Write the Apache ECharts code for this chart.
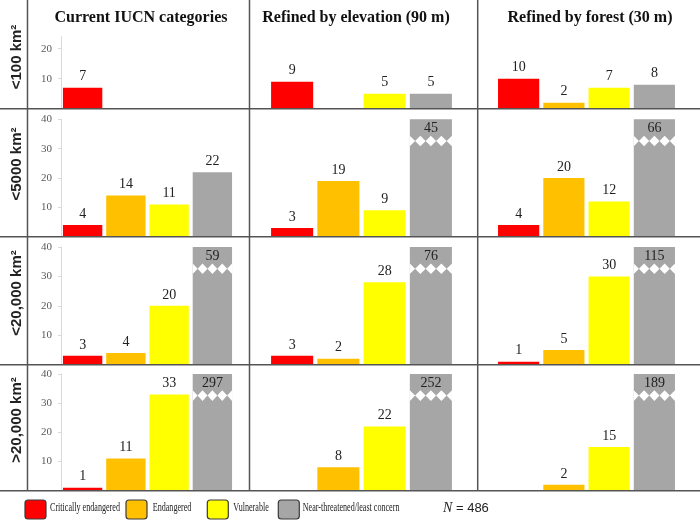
<!DOCTYPE html>
<html><head><meta charset="utf-8">
<script src="https://cdn.jsdelivr.net/npm/echarts@6/dist/echarts.min.js"></script>
<style>html,body{margin:0;padding:0;background:#fff}#c{width:700px;height:520px}</style>
</head><body><div id="c"></div>
<script>
// ---------------- data ----------------
const categories = ['Critically endangered', 'Endangered', 'Vulnerable', 'Near-threatened/least concern'];
const categoryColors = ['#FF0000', '#FFC000', '#FFFF00', '#A6A6A6'];
const columnTitles = ['Current IUCN categories', 'Refined by elevation (90 m)', 'Refined by forest (30 m)'];
const rowLabels = ['<100 km²', '<5000 km²', '<20,000 km²', '>20,000 km²'];
const rowAxisMax = [24, 40, 40, 40];
const rowTickLabels = [[10, 20], [10, 20, 30, 40], [10, 20, 30, 40], [10, 20, 30, 40]];
// rows (range size) x categories
const currentIUCN = [[7, null, null, null], [4, 14, 11, 22], [3, 4, 20, 59], [1, 11, 33, 297]];
const byElevation = [[9, null, 5, 5], [3, 19, 9, 45], [3, 2, 28, 76], [null, 8, 22, 252]];
const byForest = [[10, 2, 7, 8], [4, 20, 12, 66], [1, 5, 30, 115], [null, 2, 15, 189]];
const totalN = 486;

// ---------------- layout ----------------
const columnsData = [currentIUCN, byElevation, byForest];
const colBox = [{ left: 61, width: 173 }, { left: 269, width: 185 }, { left: 496, width: 181 }];
const rowBox = [{ top: 36.7, base: 108.7 }, { top: 119.3, base: 236.7 }, { top: 247, base: 364.7 }, { top: 374, base: 490.7 }];
const titleX = [141, 356, 590];
const rowLabelY = [57, 164, 293, 420];
const BAR_GAP = 0.09;
const BREAK_Y = 32.6;
const serif = '"Liberation Serif", "DejaVu Serif", serif';

const grids = [], xAxes = [], yAxes = [], series = [];
let gi = 0;
for (let r = 0; r < 4; r++) {
  for (let c = 0; c < 3; c++) {
    const vals = columnsData[c][r];
    const max = rowAxisMax[r];
    grids.push({ left: colBox[c].left, width: colBox[c].width, top: rowBox[r].top, height: rowBox[r].base - rowBox[r].top });
    xAxes.push({ type: 'category', gridIndex: gi, data: categories, show: false, boundaryGap: true });
    yAxes.push({
      type: 'value', gridIndex: gi, min: 0, max: max, show: c === 0,
      splitLine: { show: false },
      axisLine: { show: true, lineStyle: { color: '#d9d9d9', width: 1 } },
      axisTick: { show: true, length: 3, lineStyle: { color: '#d9d9d9' }, customValues: rowTickLabels[r] },
      axisLabel: { customValues: rowTickLabels[r], color: '#595959', fontSize: 11, fontFamily: serif, margin: 9 }
    });
    series.push({
      type: 'bar', xAxisIndex: gi, yAxisIndex: gi, barCategoryGap: (BAR_GAP * 100) + '%', clip: true,
      data: vals.map((v, i) => v == null ? '-' : ({
        value: v,
        itemStyle: { color: categoryColors[i] },
        label: { position: v > max ? 'insideTop' : 'top', distance: v > max ? 2 : 4 }
      })),
      label: { show: true, color: '#222', fontSize: 14, fontFamily: serif },
      silent: true
    });
    const broken = [];
    vals.forEach((v, i) => { if (v != null && v > max) broken.push([i, BREAK_Y]); });
    if (broken.length) {
      series.push({
        type: 'custom', xAxisIndex: gi, yAxisIndex: gi, z: 5, silent: true,
        data: broken,
        renderItem: function (params, api) {
          const cat = api.value(0);
          const p = api.coord([cat, api.value(1)]);
          const band = api.size([1, 0])[0];
          const w = band * (1 - BAR_GAP);
          const left = p[0] - w / 2;
          const hw = w / 8, hh = 5.3;
          const ch = [];
          for (let k = 0; k <= 4; k++) {
            const cx = left + k * w / 4;
            let pts;
            if (k === 0) pts = [[cx, p[1] - hh], [cx + hw, p[1]], [cx, p[1] + hh]];
            else if (k === 4) pts = [[cx, p[1] - hh], [cx - hw, p[1]], [cx, p[1] + hh]];
            else pts = [[cx, p[1] - hh], [cx + hw, p[1]], [cx, p[1] + hh], [cx - hw, p[1]]];
            ch.push({ type: 'polygon', shape: { points: pts }, style: { fill: '#fff' } });
          }
          return { type: 'group', children: ch };
        }
      });
    }
    gi++;
  }
}

// ---------------- graphics (table lines, titles, legend) ----------------
const lineStyle = { stroke: '#555', lineWidth: 1.5 };
const graphics = [];
[27.5, 249.5, 477.7].forEach(x => graphics.push({ type: 'line', shape: { x1: x, y1: 0, x2: x, y2: 490.7 }, style: lineStyle, silent: true }));
rowBox.forEach(rb => graphics.push({ type: 'line', shape: { x1: 0, y1: rb.base, x2: 700, y2: rb.base }, style: lineStyle, silent: true, z: 10 }));
columnTitles.forEach((t, i) => graphics.push({
  type: 'text', x: titleX[i], y: 18,
  style: { text: t, font: 'bold 16px ' + serif, fill: '#111', align: 'center', verticalAlign: 'middle', textAlign: 'center', textVerticalAlign: 'middle' }
}));
rowLabels.forEach((t, i) => graphics.push({
  type: 'text', x: 16.5, y: rowLabelY[i], rotation: Math.PI / 2,
  style: { text: t, font: 'bold 15px "Liberation Sans", Arial, sans-serif', fill: '#222', align: 'center', verticalAlign: 'middle', textAlign: 'center', textVerticalAlign: 'middle' }
}));
const legendBoxX = [25, 126, 207.3, 278.3];
const legendTextX = [50, 152.7, 233.3, 302.7];
categories.forEach((name, i) => {
  graphics.push({ type: 'rect', shape: { x: legendBoxX[i], y: 500, width: 21, height: 19, r: 3 }, style: { fill: categoryColors[i], stroke: '#3a3a3a', lineWidth: 1.2 } });
  graphics.push({ type: 'text', x: legendTextX[i], y: 507.5, scaleX: 0.6,
    style: { text: name, font: '13.5px ' + serif, fill: '#222', align: 'left', verticalAlign: 'middle', textAlign: 'left', textVerticalAlign: 'middle' } });
});
graphics.push({ type: 'text', x: 443, y: 508,
  style: { text: '{n|N} = ' + totalN, font: '13px "Liberation Sans", sans-serif', fill: '#222', align: 'left', verticalAlign: 'middle',
    rich: { n: { fontStyle: 'italic', fontFamily: serif, fontSize: 14, fill: '#222' } } } });

const chart = echarts.init(document.getElementById('c'), null, { renderer: 'canvas' });
chart.setOption({
  animation: false,
  backgroundColor: '#fff',
  grid: grids, xAxis: xAxes, yAxis: yAxes, series: series,
  graphic: { elements: graphics }
});
</script></body></html>
